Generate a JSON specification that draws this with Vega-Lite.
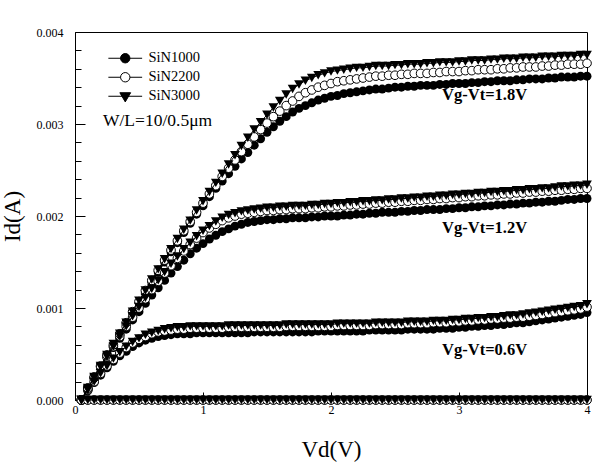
{
"$schema":"https://vega.github.io/schema/vega-lite/v6.json",
"width":512,"height":368,
"autosize":{"type":"none"},
"padding":{"left":75,"top":32,"right":12,"bottom":70},
"config":{"view":{"stroke":"black","strokeWidth":1},"font":"Liberation Serif",
"axis":{"labelFont":"Liberation Serif","titleFont":"Liberation Serif","labelColor":"black","titleColor":"black","domainColor":"black","tickColor":"black","grid":false,"labelFontSize":12,"titleFontWeight":"normal","titleFontSize":23}},
"datasets":{
"B":[
{"x":0.05,"a":0,"b":0,"c":0,"d":0},
{"x":0.1,"a":0,"b":0.0001,"c":0.00012,"d":0.00013},
{"x":0.15,"a":0,"b":0.00019,"c":0.00023,"d":0.00025},
{"x":0.2,"a":0,"b":0.00027,"c":0.00035,"d":0.00036},
{"x":0.25,"a":0,"b":0.00035,"c":0.00046,"d":0.00048},
{"x":0.3,"a":0,"b":0.00042,"c":0.00057,"d":0.00059},
{"x":0.35,"a":0,"b":0.00048,"c":0.00067,"d":0.00071},
{"x":0.4,"a":0,"b":0.00053,"c":0.00077,"d":0.00083},
{"x":0.45,"a":0,"b":0.00058,"c":0.00087,"d":0.00094},
{"x":0.5,"a":0,"b":0.00062,"c":0.00096,"d":0.00106},
{"x":0.55,"a":0,"b":0.00065,"c":0.00105,"d":0.00117},
{"x":0.6,"a":0,"b":0.00067,"c":0.00114,"d":0.00128},
{"x":0.65,"a":0,"b":0.00069,"c":0.00122,"d":0.00139},
{"x":0.7,"a":0,"b":0.0007,"c":0.0013,"d":0.0015},
{"x":0.75,"a":0,"b":0.00071,"c":0.00138,"d":0.00161},
{"x":0.8,"a":0,"b":0.00072,"c":0.00145,"d":0.00171},
{"x":0.85,"a":0,"b":0.00072,"c":0.00152,"d":0.00182},
{"x":0.9,"a":0,"b":0.00072,"c":0.00159,"d":0.00192},
{"x":0.95,"a":0,"b":0.00073,"c":0.00165,"d":0.00202},
{"x":1.0,"a":0,"b":0.00073,"c":0.0017,"d":0.00211},
{"x":1.05,"a":0,"b":0.00073,"c":0.00175,"d":0.00221},
{"x":1.1,"a":0,"b":0.00073,"c":0.00179,"d":0.0023},
{"x":1.15,"a":0,"b":0.00073,"c":0.00183,"d":0.00238},
{"x":1.2,"a":0,"b":0.00073,"c":0.00186,"d":0.00246},
{"x":1.25,"a":0,"b":0.00073,"c":0.00189,"d":0.00254},
{"x":1.3,"a":0,"b":0.00073,"c":0.00191,"d":0.00262},
{"x":1.35,"a":0,"b":0.00073,"c":0.00193,"d":0.00269},
{"x":1.4,"a":0,"b":0.00074,"c":0.00194,"d":0.00277},
{"x":1.45,"a":0,"b":0.00074,"c":0.00195,"d":0.00284},
{"x":1.5,"a":0,"b":0.00074,"c":0.00196,"d":0.00291},
{"x":1.55,"a":0,"b":0.00074,"c":0.00196,"d":0.00297},
{"x":1.6,"a":0,"b":0.00074,"c":0.00197,"d":0.00303},
{"x":1.65,"a":0,"b":0.00074,"c":0.00197,"d":0.00308},
{"x":1.7,"a":0,"b":0.00074,"c":0.00198,"d":0.00313},
{"x":1.75,"a":0,"b":0.00074,"c":0.00198,"d":0.00317},
{"x":1.8,"a":0,"b":0.00074,"c":0.00198,"d":0.0032},
{"x":1.85,"a":0,"b":0.00074,"c":0.00199,"d":0.00323},
{"x":1.9,"a":0,"b":0.00075,"c":0.00199,"d":0.00326},
{"x":1.95,"a":0,"b":0.00075,"c":0.002,"d":0.00328},
{"x":2.0,"a":0,"b":0.00075,"c":0.002,"d":0.0033},
{"x":2.05,"a":0,"b":0.00075,"c":0.002,"d":0.00331},
{"x":2.1,"a":0,"b":0.00075,"c":0.00201,"d":0.00333},
{"x":2.15,"a":0,"b":0.00075,"c":0.00201,"d":0.00334},
{"x":2.2,"a":0,"b":0.00075,"c":0.00202,"d":0.00335},
{"x":2.25,"a":0,"b":0.00075,"c":0.00202,"d":0.00336},
{"x":2.3,"a":0,"b":0.00076,"c":0.00203,"d":0.00337},
{"x":2.35,"a":0,"b":0.00076,"c":0.00203,"d":0.00338},
{"x":2.4,"a":0,"b":0.00076,"c":0.00204,"d":0.00338},
{"x":2.45,"a":0,"b":0.00076,"c":0.00204,"d":0.00339},
{"x":2.5,"a":0,"b":0.00076,"c":0.00204,"d":0.0034},
{"x":2.55,"a":0,"b":0.00076,"c":0.00205,"d":0.0034},
{"x":2.6,"a":0,"b":0.00077,"c":0.00205,"d":0.00341},
{"x":2.65,"a":0,"b":0.00077,"c":0.00206,"d":0.00341},
{"x":2.7,"a":0,"b":0.00077,"c":0.00206,"d":0.00342},
{"x":2.75,"a":0,"b":0.00077,"c":0.00207,"d":0.00342},
{"x":2.8,"a":0,"b":0.00077,"c":0.00207,"d":0.00342},
{"x":2.85,"a":0,"b":0.00078,"c":0.00207,"d":0.00343},
{"x":2.9,"a":0,"b":0.00078,"c":0.00208,"d":0.00343},
{"x":2.95,"a":0,"b":0.00078,"c":0.00208,"d":0.00344},
{"x":3.0,"a":0,"b":0.00079,"c":0.00209,"d":0.00344},
{"x":3.05,"a":0,"b":0.00079,"c":0.00209,"d":0.00344},
{"x":3.1,"a":0,"b":0.0008,"c":0.0021,"d":0.00345},
{"x":3.15,"a":0,"b":0.0008,"c":0.0021,"d":0.00345},
{"x":3.2,"a":0,"b":0.00081,"c":0.00211,"d":0.00346},
{"x":3.25,"a":0,"b":0.00081,"c":0.00211,"d":0.00346},
{"x":3.3,"a":0,"b":0.00082,"c":0.00212,"d":0.00347},
{"x":3.35,"a":0,"b":0.00082,"c":0.00212,"d":0.00347},
{"x":3.4,"a":0,"b":0.00083,"c":0.00213,"d":0.00347},
{"x":3.45,"a":0,"b":0.00084,"c":0.00213,"d":0.00348},
{"x":3.5,"a":0,"b":0.00084,"c":0.00214,"d":0.00348},
{"x":3.55,"a":0,"b":0.00085,"c":0.00214,"d":0.00349},
{"x":3.6,"a":0,"b":0.00086,"c":0.00215,"d":0.00349},
{"x":3.65,"a":0,"b":0.00087,"c":0.00215,"d":0.00349},
{"x":3.7,"a":0,"b":0.00088,"c":0.00216,"d":0.0035},
{"x":3.75,"a":0,"b":0.00089,"c":0.00216,"d":0.0035},
{"x":3.8,"a":0,"b":0.0009,"c":0.00217,"d":0.00351},
{"x":3.85,"a":0,"b":0.00091,"c":0.00218,"d":0.00351},
{"x":3.9,"a":0,"b":0.00092,"c":0.00218,"d":0.00351},
{"x":3.95,"a":0,"b":0.00093,"c":0.00219,"d":0.00352},
{"x":4.0,"a":0,"b":0.00095,"c":0.00219,"d":0.00352}
],
"T":[
{"x":0.05,"a":0,"b":0,"c":0,"d":0},
{"x":0.1,"a":0,"b":0.00011,"c":0.00012,"d":0.00013},
{"x":0.15,"a":0,"b":0.0002,"c":0.00024,"d":0.00025},
{"x":0.2,"a":0,"b":0.00029,"c":0.00036,"d":0.00037},
{"x":0.25,"a":0,"b":0.00037,"c":0.00047,"d":0.00049},
{"x":0.3,"a":0,"b":0.00045,"c":0.00058,"d":0.00061},
{"x":0.35,"a":0,"b":0.00052,"c":0.00069,"d":0.00072},
{"x":0.4,"a":0,"b":0.00058,"c":0.0008,"d":0.00084},
{"x":0.45,"a":0,"b":0.00063,"c":0.00091,"d":0.00096},
{"x":0.5,"a":0,"b":0.00067,"c":0.00101,"d":0.00108},
{"x":0.55,"a":0,"b":0.00071,"c":0.00111,"d":0.00119},
{"x":0.6,"a":0,"b":0.00073,"c":0.00121,"d":0.00131},
{"x":0.65,"a":0,"b":0.00075,"c":0.0013,"d":0.00142},
{"x":0.7,"a":0,"b":0.00077,"c":0.00139,"d":0.00153},
{"x":0.75,"a":0,"b":0.00078,"c":0.00148,"d":0.00164},
{"x":0.8,"a":0,"b":0.00079,"c":0.00156,"d":0.00175},
{"x":0.85,"a":0,"b":0.00079,"c":0.00164,"d":0.00185},
{"x":0.9,"a":0,"b":0.0008,"c":0.00171,"d":0.00195},
{"x":0.95,"a":0,"b":0.0008,"c":0.00178,"d":0.00206},
{"x":1.0,"a":0,"b":0.0008,"c":0.00184,"d":0.00216},
{"x":1.05,"a":0,"b":0.0008,"c":0.00189,"d":0.00226},
{"x":1.1,"a":0,"b":0.0008,"c":0.00194,"d":0.00236},
{"x":1.15,"a":0,"b":0.0008,"c":0.00198,"d":0.00246},
{"x":1.2,"a":0,"b":0.00081,"c":0.00201,"d":0.00256},
{"x":1.25,"a":0,"b":0.00081,"c":0.00203,"d":0.00266},
{"x":1.3,"a":0,"b":0.00081,"c":0.00205,"d":0.00276},
{"x":1.35,"a":0,"b":0.00081,"c":0.00206,"d":0.00285},
{"x":1.4,"a":0,"b":0.00081,"c":0.00207,"d":0.00294},
{"x":1.45,"a":0,"b":0.00081,"c":0.00208,"d":0.00302},
{"x":1.5,"a":0,"b":0.00081,"c":0.00209,"d":0.0031},
{"x":1.55,"a":0,"b":0.00081,"c":0.00209,"d":0.00318},
{"x":1.6,"a":0,"b":0.00081,"c":0.0021,"d":0.00325},
{"x":1.65,"a":0,"b":0.00082,"c":0.0021,"d":0.00332},
{"x":1.7,"a":0,"b":0.00082,"c":0.00211,"d":0.00338},
{"x":1.75,"a":0,"b":0.00082,"c":0.00211,"d":0.00343},
{"x":1.8,"a":0,"b":0.00082,"c":0.00211,"d":0.00347},
{"x":1.85,"a":0,"b":0.00082,"c":0.00212,"d":0.0035},
{"x":1.9,"a":0,"b":0.00082,"c":0.00212,"d":0.00353},
{"x":1.95,"a":0,"b":0.00082,"c":0.00213,"d":0.00355},
{"x":2.0,"a":0,"b":0.00082,"c":0.00213,"d":0.00357},
{"x":2.05,"a":0,"b":0.00083,"c":0.00214,"d":0.00358},
{"x":2.1,"a":0,"b":0.00083,"c":0.00214,"d":0.00359},
{"x":2.15,"a":0,"b":0.00083,"c":0.00215,"d":0.0036},
{"x":2.2,"a":0,"b":0.00083,"c":0.00215,"d":0.00361},
{"x":2.25,"a":0,"b":0.00083,"c":0.00216,"d":0.00361},
{"x":2.3,"a":0,"b":0.00083,"c":0.00216,"d":0.00362},
{"x":2.35,"a":0,"b":0.00084,"c":0.00217,"d":0.00363},
{"x":2.4,"a":0,"b":0.00084,"c":0.00217,"d":0.00363},
{"x":2.45,"a":0,"b":0.00084,"c":0.00218,"d":0.00363},
{"x":2.5,"a":0,"b":0.00084,"c":0.00218,"d":0.00364},
{"x":2.55,"a":0,"b":0.00084,"c":0.00219,"d":0.00364},
{"x":2.6,"a":0,"b":0.00085,"c":0.00219,"d":0.00365},
{"x":2.65,"a":0,"b":0.00085,"c":0.0022,"d":0.00365},
{"x":2.7,"a":0,"b":0.00085,"c":0.0022,"d":0.00365},
{"x":2.75,"a":0,"b":0.00085,"c":0.00221,"d":0.00366},
{"x":2.8,"a":0,"b":0.00086,"c":0.00221,"d":0.00366},
{"x":2.85,"a":0,"b":0.00086,"c":0.00222,"d":0.00367},
{"x":2.9,"a":0,"b":0.00086,"c":0.00222,"d":0.00367},
{"x":2.95,"a":0,"b":0.00087,"c":0.00223,"d":0.00367},
{"x":3.0,"a":0,"b":0.00087,"c":0.00223,"d":0.00368},
{"x":3.05,"a":0,"b":0.00088,"c":0.00224,"d":0.00368},
{"x":3.1,"a":0,"b":0.00088,"c":0.00224,"d":0.00369},
{"x":3.15,"a":0,"b":0.00089,"c":0.00225,"d":0.00369},
{"x":3.2,"a":0,"b":0.00089,"c":0.00225,"d":0.00369},
{"x":3.25,"a":0,"b":0.0009,"c":0.00226,"d":0.0037},
{"x":3.3,"a":0,"b":0.0009,"c":0.00226,"d":0.0037},
{"x":3.35,"a":0,"b":0.00091,"c":0.00227,"d":0.00371},
{"x":3.4,"a":0,"b":0.00092,"c":0.00227,"d":0.00371},
{"x":3.45,"a":0,"b":0.00092,"c":0.00228,"d":0.00371},
{"x":3.5,"a":0,"b":0.00093,"c":0.00228,"d":0.00372},
{"x":3.55,"a":0,"b":0.00094,"c":0.00229,"d":0.00372},
{"x":3.6,"a":0,"b":0.00095,"c":0.00229,"d":0.00372},
{"x":3.65,"a":0,"b":0.00096,"c":0.0023,"d":0.00373},
{"x":3.7,"a":0,"b":0.00097,"c":0.0023,"d":0.00373},
{"x":3.75,"a":0,"b":0.00098,"c":0.00231,"d":0.00373},
{"x":3.8,"a":0,"b":0.00099,"c":0.00232,"d":0.00374},
{"x":3.85,"a":0,"b":0.001,"c":0.00232,"d":0.00374},
{"x":3.9,"a":0,"b":0.00101,"c":0.00233,"d":0.00374},
{"x":3.95,"a":0,"b":0.00102,"c":0.00233,"d":0.00375},
{"x":4.0,"a":0,"b":0.00104,"c":0.00234,"d":0.00375}
],
"O":[
{"x":0.05,"a":0,"b":0,"c":0,"d":0},
{"x":0.1,"a":0,"b":0.00011,"c":0.00012,"d":0.00013},
{"x":0.15,"a":0,"b":0.0002,"c":0.00024,"d":0.00025},
{"x":0.2,"a":0,"b":0.00029,"c":0.00036,"d":0.00037},
{"x":0.25,"a":0,"b":0.00037,"c":0.00047,"d":0.00049},
{"x":0.3,"a":0,"b":0.00044,"c":0.00058,"d":0.0006},
{"x":0.35,"a":0,"b":0.00051,"c":0.00069,"d":0.00072},
{"x":0.4,"a":0,"b":0.00057,"c":0.0008,"d":0.00084},
{"x":0.45,"a":0,"b":0.00062,"c":0.0009,"d":0.00096},
{"x":0.5,"a":0,"b":0.00066,"c":0.001,"d":0.00107},
{"x":0.55,"a":0,"b":0.00069,"c":0.0011,"d":0.00119},
{"x":0.6,"a":0,"b":0.00072,"c":0.0012,"d":0.0013},
{"x":0.65,"a":0,"b":0.00074,"c":0.00129,"d":0.00141},
{"x":0.7,"a":0,"b":0.00075,"c":0.00138,"d":0.00152},
{"x":0.75,"a":0,"b":0.00076,"c":0.00146,"d":0.00163},
{"x":0.8,"a":0,"b":0.00077,"c":0.00154,"d":0.00173},
{"x":0.85,"a":0,"b":0.00077,"c":0.00162,"d":0.00184},
{"x":0.9,"a":0,"b":0.00078,"c":0.00169,"d":0.00194},
{"x":0.95,"a":0,"b":0.00078,"c":0.00176,"d":0.00204},
{"x":1.0,"a":0,"b":0.00078,"c":0.00182,"d":0.00214},
{"x":1.05,"a":0,"b":0.00078,"c":0.00187,"d":0.00224},
{"x":1.1,"a":0,"b":0.00078,"c":0.00191,"d":0.00233},
{"x":1.15,"a":0,"b":0.00078,"c":0.00195,"d":0.00243},
{"x":1.2,"a":0,"b":0.00079,"c":0.00198,"d":0.00252},
{"x":1.25,"a":0,"b":0.00079,"c":0.002,"d":0.00261},
{"x":1.3,"a":0,"b":0.00079,"c":0.00202,"d":0.0027},
{"x":1.35,"a":0,"b":0.00079,"c":0.00203,"d":0.00278},
{"x":1.4,"a":0,"b":0.00079,"c":0.00204,"d":0.00286},
{"x":1.45,"a":0,"b":0.00079,"c":0.00205,"d":0.00294},
{"x":1.5,"a":0,"b":0.00079,"c":0.00206,"d":0.00301},
{"x":1.55,"a":0,"b":0.00079,"c":0.00206,"d":0.00308},
{"x":1.6,"a":0,"b":0.00079,"c":0.00207,"d":0.00314},
{"x":1.65,"a":0,"b":0.0008,"c":0.00207,"d":0.0032},
{"x":1.7,"a":0,"b":0.0008,"c":0.00208,"d":0.00325},
{"x":1.75,"a":0,"b":0.0008,"c":0.00208,"d":0.0033},
{"x":1.8,"a":0,"b":0.0008,"c":0.00208,"d":0.00334},
{"x":1.85,"a":0,"b":0.0008,"c":0.00209,"d":0.00337},
{"x":1.9,"a":0,"b":0.0008,"c":0.00209,"d":0.0034},
{"x":1.95,"a":0,"b":0.0008,"c":0.0021,"d":0.00342},
{"x":2.0,"a":0,"b":0.0008,"c":0.0021,"d":0.00344},
{"x":2.05,"a":0,"b":0.00081,"c":0.00211,"d":0.00346},
{"x":2.1,"a":0,"b":0.00081,"c":0.00211,"d":0.00347},
{"x":2.15,"a":0,"b":0.00081,"c":0.00212,"d":0.00348},
{"x":2.2,"a":0,"b":0.00081,"c":0.00212,"d":0.00349},
{"x":2.25,"a":0,"b":0.00081,"c":0.00213,"d":0.0035},
{"x":2.3,"a":0,"b":0.00081,"c":0.00213,"d":0.00351},
{"x":2.35,"a":0,"b":0.00082,"c":0.00214,"d":0.00352},
{"x":2.4,"a":0,"b":0.00082,"c":0.00214,"d":0.00352},
{"x":2.45,"a":0,"b":0.00082,"c":0.00215,"d":0.00353},
{"x":2.5,"a":0,"b":0.00082,"c":0.00215,"d":0.00353},
{"x":2.55,"a":0,"b":0.00082,"c":0.00216,"d":0.00354},
{"x":2.6,"a":0,"b":0.00083,"c":0.00216,"d":0.00354},
{"x":2.65,"a":0,"b":0.00083,"c":0.00217,"d":0.00355},
{"x":2.7,"a":0,"b":0.00083,"c":0.00217,"d":0.00355},
{"x":2.75,"a":0,"b":0.00083,"c":0.00218,"d":0.00355},
{"x":2.8,"a":0,"b":0.00084,"c":0.00218,"d":0.00356},
{"x":2.85,"a":0,"b":0.00084,"c":0.00219,"d":0.00356},
{"x":2.9,"a":0,"b":0.00084,"c":0.00219,"d":0.00357},
{"x":2.95,"a":0,"b":0.00085,"c":0.0022,"d":0.00357},
{"x":3.0,"a":0,"b":0.00085,"c":0.0022,"d":0.00357},
{"x":3.05,"a":0,"b":0.00086,"c":0.00221,"d":0.00358},
{"x":3.1,"a":0,"b":0.00086,"c":0.00221,"d":0.00358},
{"x":3.15,"a":0,"b":0.00087,"c":0.00222,"d":0.00359},
{"x":3.2,"a":0,"b":0.00087,"c":0.00222,"d":0.00359},
{"x":3.25,"a":0,"b":0.00088,"c":0.00223,"d":0.00359},
{"x":3.3,"a":0,"b":0.00088,"c":0.00223,"d":0.0036},
{"x":3.35,"a":0,"b":0.00089,"c":0.00224,"d":0.0036},
{"x":3.4,"a":0,"b":0.00089,"c":0.00224,"d":0.00361},
{"x":3.45,"a":0,"b":0.0009,"c":0.00225,"d":0.00361},
{"x":3.5,"a":0,"b":0.0009,"c":0.00225,"d":0.00362},
{"x":3.55,"a":0,"b":0.00091,"c":0.00226,"d":0.00362},
{"x":3.6,"a":0,"b":0.00092,"c":0.00226,"d":0.00362},
{"x":3.65,"a":0,"b":0.00093,"c":0.00227,"d":0.00363},
{"x":3.7,"a":0,"b":0.00094,"c":0.00227,"d":0.00363},
{"x":3.75,"a":0,"b":0.00095,"c":0.00228,"d":0.00364},
{"x":3.8,"a":0,"b":0.00096,"c":0.00228,"d":0.00364},
{"x":3.85,"a":0,"b":0.00097,"c":0.00229,"d":0.00365},
{"x":3.9,"a":0,"b":0.00098,"c":0.00229,"d":0.00365},
{"x":3.95,"a":0,"b":0.00099,"c":0.0023,"d":0.00365},
{"x":4.0,"a":0,"b":0.00101,"c":0.0023,"d":0.00366}
]
},
"resolve":{"axis":{"x":"independent","y":"independent"}},
"layer":[
{"data":{"name":"B"},"transform":[{"fold":["a","b","c","d"],"as":["k","y"]}],
"encoding":{
"x":{"field":"x","type":"quantitative","scale":{"domain":[0,4],"nice":false},"axis":{"orient":"bottom","values":[0,1,2,3,4],"format":"d","labelFlush":false,"tickSize":-8,"labelPadding":12,"title":"Vd(V)","titlePadding":23}},
"y":{"field":"y","type":"quantitative","scale":{"domain":[0,0.004],"nice":false},"axis":{"orient":"left","values":[0,0.001,0.002,0.003,0.004],"format":".3f","labelFlush":false,"tickSize":-10,"labelPadding":22,"title":"Id(A)","titlePadding":12}},
"detail":{"field":"k"}},
"layer":[
{"mark":{"type":"line","color":"black","strokeWidth":1}},
{"mark":{"type":"point","shape":"circle","filled":true,"color":"black","size":80,"opacity":1}}
]},
{"data":{"name":"O"},"transform":[{"fold":["a","b","c","d"],"as":["k","y"]}],
"encoding":{
"x":{"field":"x","type":"quantitative","axis":null},
"y":{"field":"y","type":"quantitative","axis":null},
"detail":{"field":"k"}},
"layer":[
{"mark":{"type":"line","color":"black","strokeWidth":1}},
{"mark":{"type":"point","shape":"circle","filled":true,"fill":"white","stroke":"black","strokeWidth":1,"size":75,"opacity":1}}
]},
{"data":{"name":"T"},"transform":[{"fold":["a","b","c","d"],"as":["k","y"]}],
"encoding":{
"x":{"field":"x","type":"quantitative","axis":{"orient":"bottom","values":[0.2,0.4,0.6,0.8,1.2,1.4,1.6,1.8,2.2,2.4,2.6,2.8,3.2,3.4,3.6,3.8],"tickSize":-4,"labels":false,"domain":false,"title":null}},
"y":{"field":"y","type":"quantitative","axis":{"orient":"left","values":[0.0002,0.0004,0.0006,0.0008,0.0012,0.0014,0.0016,0.0018,0.0022,0.0024,0.0026,0.0028,0.0032,0.0034,0.0036,0.0038],"tickSize":-6,"labels":false,"domain":false,"title":null}},
"detail":{"field":"k"}},
"layer":[
{"mark":{"type":"line","color":"black","strokeWidth":1}},
{"mark":{"type":"point","shape":"triangle-down","filled":true,"color":"black","size":95,"opacity":1}}
]},
{"data":{"values":[{"s":"SiN1000"},{"s":"SiN2200"},{"s":"SiN3000"}]},
"mark":{"type":"point","filled":false,"stroke":"black","strokeWidth":1,"opacity":0},
"encoding":{
"shape":{"field":"s","type":"nominal","scale":{"domain":["SiN1000","SiN2200","SiN3000"],"range":["M-3.6,0L3.6,0M1,0A1,1,0,1,1,-1,0A1,1,0,1,1,1,0Z","M-3.6,0L-1,0M1,0L3.6,0M1,0A1,1,0,1,1,-1,0A1,1,0,1,1,1,0Z","M-3.6,0L3.6,0M-1.15,-0.75L1.15,-0.75L0,1.2Z"]},
"legend":{"orient":"none","legendX":43,"legendY":19,"title":null,"symbolSize":88,"labelFontSize":14.5,"labelFont":"Liberation Serif","labelColor":"black","labelOffset":16,"rowPadding":4,"symbolStrokeWidth":1,"symbolOpacity":1,"padding":0}},
"fill":{"field":"s","type":"nominal","scale":{"domain":["SiN1000","SiN2200","SiN3000"],"range":["black","white","black"]},
"legend":{"orient":"none","legendX":43,"legendY":19,"title":null,"symbolSize":88,"labelFontSize":14.5,"labelFont":"Liberation Serif","labelColor":"black","labelOffset":16,"rowPadding":4,"symbolStrokeWidth":1,"symbolOpacity":1,"padding":0}},
"stroke":{"field":"s","type":"nominal","scale":{"domain":["SiN1000","SiN2200","SiN3000"],"range":["black","black","black"]},
"legend":{"orient":"none","legendX":43,"legendY":19,"title":null,"symbolSize":88,"labelFontSize":14.5,"labelFont":"Liberation Serif","labelColor":"black","labelOffset":16,"rowPadding":4,"symbolStrokeWidth":1,"symbolOpacity":1,"padding":0}}}},
{"data":{"values":[{}]},"mark":{"type":"text","font":"Liberation Serif","fontSize":16.5,"fontWeight":"bold","color":"black"},
"encoding":{"x":{"datum":3.2,"type":"quantitative","axis":null},"y":{"datum":0.00331,"type":"quantitative","axis":null},"text":{"value":"Vg-Vt=1.8V"}}},
{"data":{"values":[{}]},"mark":{"type":"text","font":"Liberation Serif","fontSize":16.5,"fontWeight":"bold","color":"black"},
"encoding":{"x":{"datum":3.2,"type":"quantitative","axis":null},"y":{"datum":0.00187,"type":"quantitative","axis":null},"text":{"value":"Vg-Vt=1.2V"}}},
{"data":{"values":[{}]},"mark":{"type":"text","font":"Liberation Serif","fontSize":16.5,"fontWeight":"bold","color":"black"},
"encoding":{"x":{"datum":3.2,"type":"quantitative","axis":null},"y":{"datum":0.00054,"type":"quantitative","axis":null},"text":{"value":"Vg-Vt=0.6V"}}},
{"data":{"values":[{}]},"mark":{"type":"text","font":"Liberation Serif","fontSize":17.5,"color":"black"},
"encoding":{"x":{"datum":0.645,"type":"quantitative","axis":null},"y":{"datum":0.00303,"type":"quantitative","axis":null},"text":{"value":"W/L=10/0.5μm"}}}
]
}
